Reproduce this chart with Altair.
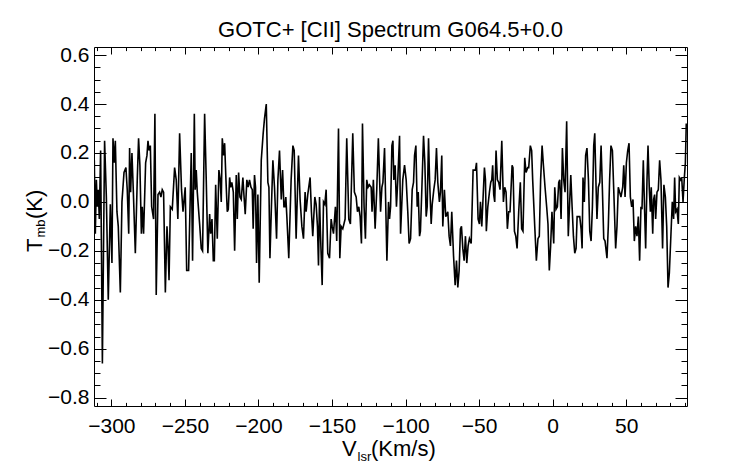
import altair as alt
import pandas as pd

FONT = "Liberation Sans"

# ---- spectrum (velocity in km/s, T_mb in K) ----
v1 = [-311.6, -310.9, -310.2, -309.5, -308.9, -308.2, -307.3, -306.1, -304.6, -303.4,
      -302.1, -300.7, -299.6, -298.9, -298.0, -297.3, -296.2, -295.3, -293.9, -292.8,
      -291.4, -290.1, -289.2, -288.2, -287.6, -286.9, -286.0, -285.1, -283.7, -282.4,
      -281.5, -280.6, -279.6, -279.0, -278.1, -276.7, -275.8, -275.1, -274.4, -273.5,
      -272.6, -271.3, -270.4, -269.5, -268.3, -267.2, -266.3, -265.4, -264.5, -263.3,
      -262.2, -261.5, -260.8, -259.9, -258.6, -257.0, -255.9, -254.8, -253.6, -252.3,
      -251.3, -249.8, -248.8, -247.5]
t1 = [0.17, -0.13, 0.09, -0.02, 0.05, -0.07, 0.21, -0.66, 0.25, 0.02,
      -0.40, -0.01, -0.25, 0.26, 0.16, 0.25, -0.04, -0.10, -0.37, 0.00,
      0.12, 0.14, 0.05, -0.13, 0.22, 0.04, 0.20, 0.05, -0.21, 0.09,
      0.26, 0.15, -0.13, -0.02, -0.13, 0.16, 0.19, 0.25, 0.21, 0.23,
      -0.02, -0.07, 0.36, -0.38, 0.03, 0.04, 0.02, 0.05, 0.04, -0.37,
      -0.10, -0.18, -0.32, -0.02, -0.03, 0.14, 0.09, -0.07, 0.28, 0.05,
      -0.04, 0.06, -0.28, -0.28]

v2 = [-245.7, -244.8, -243.6, -243.0, -242.3, -241.6, -240.0, -238.9, -238.0, -236.6,
      -235.5, -234.4, -233.2, -232.5, -231.6, -230.7, -230.0, -229.1, -228.0, -226.9,
      -226.0, -225.3, -224.6, -223.7, -223.0, -222.1, -221.2, -220.5, -219.6, -218.9,
      -218.1, -217.1, -216.2, -215.1, -214.4, -213.5, -212.6, -211.7, -210.6, -209.9,
      -209.0, -207.9, -207.0, -206.1, -205.1, -204.2, -203.6, -202.7, -202.0, -201.3,
      -200.4, -199.5, -198.1, -196.8, -195.9, -194.7, -193.6, -192.9, -192.2, -191.3,
      -190.2, -189.1, -187.7, -186.8, -185.7, -184.5, -183.6, -182.7]
t2 = [0.20, -0.24, 0.36, 0.05, 0.13, 0.04, -0.09, -0.19, -0.20, 0.36,
      0.09, -0.21, -0.05, -0.13, -0.07, -0.24, -0.24, 0.07, -0.15, 0.13,
      0.09, 0.00, 0.26, 0.19, 0.24, 0.09, -0.04, -0.03, 0.10, 0.06,
      0.08, 0.04, -0.20, 0.11, -0.07, 0.12, 0.02, 0.01, 0.10, 0.03,
      -0.05, 0.09, 0.06, 0.09, 0.06, 0.05, -0.11, 0.11, 0.06, -0.25,
      0.03, -0.33, 0.17, 0.28, 0.34, 0.40, 0.08, 0.06, -0.23, -0.04,
      0.17, 0.06, -0.15, 0.09, 0.21, 0.01, 0.13, -0.02]

v3 = [-182.1, -181.4, -180.7, -179.4, -177.8, -176.6, -175.7, -174.4, -172.8, -171.7,
      -170.5, -169.4, -168.3, -167.6, -166.5, -164.9, -164.0, -163.1, -161.7, -160.8,
      -159.9, -159.2, -158.5, -157.9, -156.7, -155.8, -154.9, -154.0, -152.9, -151.7,
      -150.6, -149.9, -149.0, -147.7, -146.8, -145.6, -144.7, -143.8, -142.7, -141.1,
      -140.0, -138.6, -137.5, -135.9, -134.8, -133.6, -132.7, -131.8, -130.9, -130.0,
      -129.3, -128.2, -127.3, -126.4, -125.5, -124.6, -123.4, -122.8, -121.9, -120.7,
      -119.6, -118.5]
t3 = [-0.02, 0.02, -0.06, -0.23, 0.09, 0.23, 0.21, -0.15, 0.19, 0.01,
      -0.10, -0.15, 0.04, -0.04, 0.03, 0.10, -0.04, -0.14, 0.02, -0.01,
      -0.10, -0.26, 0.02, -0.12, -0.34, 0.00, -0.01, 0.05, -0.21, -0.23,
      -0.07, -0.10, -0.13, -0.02, -0.16, 0.30, -0.23, -0.10, -0.11, -0.07,
      0.26, -0.07, -0.09, 0.28, 0.04, 0.02, -0.04, -0.02, -0.06, -0.17,
      0.32, -0.02, -0.15, 0.09, 0.06, 0.07, 0.06, -0.04, 0.09, -0.11,
      0.05, 0.26]

v4 = [-117.0, -116.1, -115.4, -114.3, -113.6, -112.7, -111.6, -110.9, -110.2, -109.3,
      -108.6, -108.0, -107.1, -106.2, -105.3, -104.1, -103.4, -101.9, -100.7, -99.6,
      -98.5, -97.6, -96.6, -95.5, -94.6, -93.9, -93.0, -92.1, -91.4, -90.5,
      -89.9, -88.9, -87.8, -86.9, -86.0, -85.3, -84.4, -83.7, -82.6, -81.9,
      -80.8, -79.9, -79.0, -78.1, -77.0, -76.3, -75.4, -74.7, -73.6, -72.7,
      -71.3, -70.4, -69.5, -68.6, -67.4, -66.3, -65.4, -64.5, -63.6, -62.7,
      -62.0, -61.1, -60.2, -59.3, -58.4, -57.5, -56.6, -55.4, -54.1]
t4 = [-0.04, 0.06, 0.08, 0.22, 0.02, -0.24, 0.00, -0.07, -0.02, 0.23,
      0.25, 0.09, 0.15, -0.02, 0.09, 0.27, -0.13, 0.09, 0.15, 0.09,
      -0.04, -0.17, -0.15, 0.05, 0.08, 0.19, 0.23, -0.02, 0.04, -0.14,
      -0.12, 0.06, 0.27, 0.16, -0.06, -0.02, 0.26, 0.09, -0.09, -0.01,
      0.05, 0.09, 0.22, 0.08, 0.00, 0.04, 0.19, -0.10, 0.05, -0.06,
      -0.04, -0.14, -0.18, -0.04, -0.22, -0.34, -0.24, -0.35, -0.28, -0.11,
      -0.10, -0.19, -0.24, -0.14, -0.25, -0.18, -0.15, -0.17, 0.13]

v5 = [-52.5, -51.8, -50.7, -49.8, -49.1, -48.2, -47.3, -46.4, -45.7, -45.1,
      -44.1, -43.0, -42.1, -41.4, -40.8, -40.1, -39.4, -38.5, -37.6, -36.7,
      -35.8, -34.6, -33.5, -32.6, -31.7, -30.8, -29.9, -29.0, -27.6, -27.0,
      -26.0, -25.1, -24.2, -23.1, -22.0, -21.1, -20.2, -19.0, -18.1, -17.0,
      -16.3, -15.2, -14.3, -13.6, -12.2, -11.1, -10.0, -9.1, -8.2, -7.2,
      -6.3, -5.2, -4.1, -3.2, -2.3, -1.4, -0.5, 0.7, 1.4, 2.3,
      3.2, 4.1, 4.8, 5.7, 6.6, 7.5, 8.4, 9.5, 10.6]
t5 = [0.13, 0.16, -0.07, -0.09, 0.00, -0.10, 0.02, 0.14, 0.09, -0.12,
      -0.02, 0.04, 0.08, 0.09, 0.15, 0.03, 0.00, 0.21, 0.09, 0.08,
      0.05, 0.25, 0.00, 0.06, 0.04, -0.11, -0.04, -0.04, 0.15, 0.14,
      -0.12, -0.14, -0.19, -0.04, 0.08, -0.11, -0.12, 0.18, 0.12, 0.14,
      0.14, 0.23, 0.21, 0.09, -0.10, -0.24, -0.15, -0.14, 0.09, 0.23,
      0.15, 0.06, -0.02, -0.09, -0.28, -0.18, -0.04, -0.17, 0.06, -0.03,
      -0.02, 0.08, 0.09, -0.07, 0.22, 0.09, 0.04, 0.33, -0.14]

v6 = [12.3, 13.2, 14.1, 15.0, 15.9, 16.6, 17.5, 18.4, 19.3, 20.0,
      20.6, 21.5, 22.4, 23.3, 24.3, 25.2, 26.1, 27.0, 27.9, 28.6,
      29.5, 30.1, 31.0, 32.0, 32.9, 33.8, 34.7, 35.6, 36.9, 37.8,
      38.7, 39.6, 40.6, 41.5, 42.8, 43.7, 44.6, 45.5, 46.4, 47.6,
      48.3, 49.2, 50.1, 51.0, 51.9, 52.8, 53.7, 54.6, 55.5, 56.4,
      57.3, 58.2, 59.1, 60.0, 60.7, 61.6, 62.5, 63.2, 64.1, 64.8,
      65.7, 66.4, 67.0, 68.0, 68.6, 69.3, 70.0, 70.9, 71.8, 72.7,
      73.6, 74.7, 75.6, 76.6, 77.5, 78.4, 79.3, 80.4, 81.3, 82.2,
      82.9, 83.6, 84.5, 85.4, 86.1, 87.0, 87.7, 88.6, 89.5, 90.2,
      90.8]
t6 = [0.11, -0.02, -0.14, -0.21, -0.19, -0.06, -0.06, -0.06, -0.11, -0.19,
      0.10, 0.00, 0.19, 0.22, 0.09, -0.12, -0.16, -0.02, 0.23, 0.28,
      0.06, -0.07, 0.06, 0.08, 0.23, 0.05, -0.15, -0.16, -0.23, -0.10,
      0.09, 0.23, 0.21, 0.05, -0.19, -0.10, 0.06, 0.04, 0.02, 0.06,
      0.15, 0.02, 0.16, 0.21, 0.24, 0.02, -0.02, 0.01, -0.16, -0.10,
      -0.14, -0.06, -0.24, -0.02, -0.03, 0.17, -0.04, -0.19, 0.09, 0.23,
      0.05, -0.04, 0.06, -0.13, 0.01, 0.03, -0.07, 0.04, 0.05, 0.17,
      0.09, -0.19, 0.07, 0.02, -0.10, -0.35, -0.29, -0.13, 0.00, -0.07,
      0.10, -0.04, -0.03, -0.09, 0.10, 0.09, 0.10, 0.00, 0.10, 0.16,
      0.32]

# ---- axes ----
x_domain = [-311.8, 91.3]
y_domain = [-0.834, 0.633]
x_major = [-300, -250, -200, -150, -100, -50, 0, 50]
x_minor = [-310, -290, -280, -270, -260, -240, -230, -220, -210, -190, -180, -170,
           -160, -140, -130, -120, -110, -90, -80, -70, -60, -40, -30, -20, -10,
           10, 20, 30, 40, 60, 70, 80, 90]
y_major = [-0.8, -0.6, -0.4, -0.2, 0.0, 0.2, 0.4, 0.6]
y_minor = [-0.75, -0.7, -0.65, -0.55, -0.5, -0.45, -0.35, -0.3, -0.25, -0.15, -0.1,
           -0.05, 0.05, 0.1, 0.15, 0.25, 0.3, 0.35, 0.45, 0.5, 0.55]

title_text = "GOTC+ [CII] Spectrum G064.5+0.0"
xt_main, xt_sub, xt_unit = "V", "lsr", "(Km/s)"
yt_main, yt_sub, yt_unit = "T", "mb", "(K)"

vel, tmb = [], []
for vs, ts in [(v1, t1), (v2, t2), (v3, t3), (v4, t4), (v5, t5), (v6, t6)]:
    for a, b in zip(vs, ts, strict=True):
        vel.append(a)
        tmb.append(b)
df = pd.DataFrame({"v": vel, "t": tmb})

W, H = 593, 359
xs = alt.Scale(domain=x_domain, nice=False, zero=False)
ys = alt.Scale(domain=y_domain, nice=False, zero=False)


def tick_axis(orient, values, size, offset):
    return alt.Axis(orient=orient, values=values, offset=offset, labels=False,
                    ticks=True, tickSize=size, tickColor="black", tickWidth=1,
                    domain=False, grid=False, title=None)


def layer(xaxis, yaxis, visible):
    return alt.Chart(df).mark_line(
        color="black", strokeWidth=1.6, clip=True, opacity=1 if visible else 0
    ).encode(
        x=alt.X("v:Q", scale=xs, axis=xaxis),
        y=alt.Y("t:Q", scale=ys, axis=yaxis),
    )


main = layer(
    alt.Axis(orient="bottom", values=x_major, format="d", ticks=False, tickSize=0,
             labelPadding=9, labelFontSize=21, labelFont=FONT, labelColor="black",
             labelFlush=False, labelOverlap=False, domain=False, grid=False, title=None),
    alt.Axis(orient="left", values=y_major, format=".1f", ticks=False, tickSize=0,
             labelPadding=5, labelFontSize=21, labelFont=FONT, labelColor="black",
             labelFlush=False, labelOverlap=False, domain=False, grid=False, title=None),
    True,
)
bottom_major = layer(tick_axis("top", x_major, 7, -H), tick_axis("right", y_major, 12, -W), False)
bottom_minor = layer(tick_axis("top", x_minor, 3.6, -H), tick_axis("right", y_minor, 6, -W), False)
top_major = layer(tick_axis("bottom", x_major, 7, -H), tick_axis("left", y_major, 12, -W), False)
top_minor = layer(tick_axis("bottom", x_minor, 3.6, -H), tick_axis("left", y_minor, 6, -W), False)


def piece(text, x, y, size, angle=0, align="left"):
    return alt.Chart(pd.DataFrame({"s": [text]})).mark_text(
        font=FONT, fontSize=size, color="black", align=align,
        baseline="alphabetic", angle=angle
    ).encode(x=alt.value(x), y=alt.value(y), text="s:N")


texts = [
    piece(title_text, W / 2, -10.5, 22, 0, "center"),
    piece(xt_main, 248, 409, 22),
    piece(xt_sub, 263.5, 413.5, 13),
    piece(xt_unit, 277, 409, 22),
    piece(yt_main, -52.5, 205, 22, 270),
    piece(yt_sub, -49, 190.5, 13, 270),
    piece(yt_unit, -52.5, 172, 22, 270),
]

chart = alt.layer(
    main, bottom_major, bottom_minor, top_major, top_minor, *texts
).resolve_axis(
    x="independent", y="independent"
).properties(
    width=W, height=H,
    autosize=alt.AutoSizeParams(type="none"),
    padding={"left": 86, "top": 39, "right": 40, "bottom": 58},
    background="white",
).configure_view(
    stroke="black", strokeWidth=1
)

chart.save("out.html", embed_options={"renderer": "svg", "actions": False})
